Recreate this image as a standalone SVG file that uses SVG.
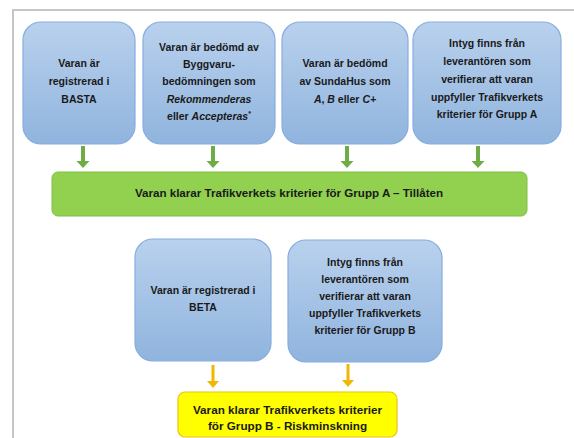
<svg xmlns="http://www.w3.org/2000/svg" width="574" height="438" viewBox="0 0 574 438">
<defs>
<linearGradient id="blueGrad" x1="0" y1="0" x2="0" y2="1">
<stop offset="0" stop-color="#b9d1ed"/>
<stop offset="1" stop-color="#90b4de"/>
</linearGradient>
<style>
.box{fill:url(#blueGrad);stroke:#86ade0;stroke-width:1.2}
.t{font-family:"Liberation Sans",Arial,sans-serif;font-weight:bold;font-size:10.5px;fill:#1a1a1a;text-anchor:middle}
.big{font-size:11.6px}
.yl{font-size:11.7px}
.ga{fill:#6fac46}
.oa{fill:#f2b705}
</style>
</defs>
<rect width="574" height="438" fill="#ffffff"/>
<path d="M13 438 V10 H574" fill="none" stroke="#c6c6c6" stroke-width="2"/>

<g id="node-basta">
<rect class="box" x="23" y="22" width="112" height="122" rx="18"/>
<text class="t" x="79" y="67">Varan är</text>
<text class="t" x="79" y="85">registrerad i</text>
<text class="t" x="79" y="103">BASTA</text>
</g>
<g id="node-byggvaru">
<rect class="box" x="143" y="22" width="132" height="122" rx="18"/>
<text class="t" x="209" y="51">Varan är bedömd av</text>
<text class="t" x="209" y="68">Byggvaru-</text>
<text class="t" x="209" y="85">bedömningen som</text>
<text class="t" x="209" y="103" font-style="italic">Rekommenderas</text>
<text class="t" x="209" y="120">eller <tspan font-style="italic">Accepteras</tspan><tspan font-size="7" dy="-4">*</tspan></text>
</g>
<g id="node-sundahus">
<rect class="box" x="282" y="22" width="126" height="122" rx="18"/>
<text class="t" x="345" y="67">Varan är bedömd</text>
<text class="t" x="345" y="85">av SundaHus som</text>
<text class="t" x="345" y="103"><tspan font-style="italic">A</tspan>, <tspan font-style="italic">B</tspan> eller <tspan font-style="italic">C+</tspan></text>
</g>
<g id="node-intyg-a">
<rect class="box" x="413" y="22" width="148" height="122" rx="18"/>
<text class="t" x="487" y="47">Intyg finns från</text>
<text class="t" x="487" y="65">leverantören som</text>
<text class="t" x="487" y="83">verifierar att varan</text>
<text class="t" x="487" y="101">uppfyller Trafikverkets</text>
<text class="t" x="487" y="118">kriterier för Grupp A</text>
</g>
<g id="node-grupp-a">
<rect x="52" y="172" width="475" height="44" rx="6" fill="#92d050" stroke="#7fbf45" stroke-width="1"/>
<text class="t big" x="289" y="197">Varan klarar Trafikverkets kriterier för Grupp A – Tillåten</text>
</g>
<g id="node-beta">
<rect class="box" x="135" y="239" width="136" height="122" rx="18"/>
<text class="t" x="203" y="294">Varan är registrerad i</text>
<text class="t" x="203" y="311">BETA</text>
</g>
<g id="node-intyg-b">
<rect class="box" x="288" y="240" width="154" height="122" rx="18"/>
<text class="t" x="365" y="266">Intyg finns från</text>
<text class="t" x="365" y="283">leverantören som</text>
<text class="t" x="365" y="300">verifierar att varan</text>
<text class="t" x="365" y="317">uppfyller Trafikverkets</text>
<text class="t" x="365" y="334">kriterier för Grupp B</text>
</g>
<g id="node-grupp-b">
<rect x="178" y="392" width="219" height="45" rx="7" fill="#ffff00" stroke="#e8c21a" stroke-width="1.2"/>
<text class="t yl" x="287.5" y="414">Varan klarar Trafikverkets kriterier</text>
<text class="t yl" x="287.5" y="430">för Grupp B - Riskminskning</text>
</g>

<g id="connectors">
<path class="ga" d="M81 146 H85 V161 H89.5 L83 168 L76.5 161 H81 Z"/>
<path class="ga" d="M211 146 H215 V161 H219.5 L213 168 L206.5 161 H211 Z"/>
<path class="ga" d="M345 146 H349 V161 H353.5 L347 168 L340.5 161 H345 Z"/>
<path class="ga" d="M476 146 H480 V161 H484.5 L478 168 L471.5 161 H476 Z"/>
<path class="oa" d="M211.5 365 H214.5 V381 H219 L213 388 L207 381 H211.5 Z"/>
<path class="oa" d="M346.5 364 H349.5 V380 H354 L348 387 L342 380 H346.5 Z"/>
</g>
</svg>
